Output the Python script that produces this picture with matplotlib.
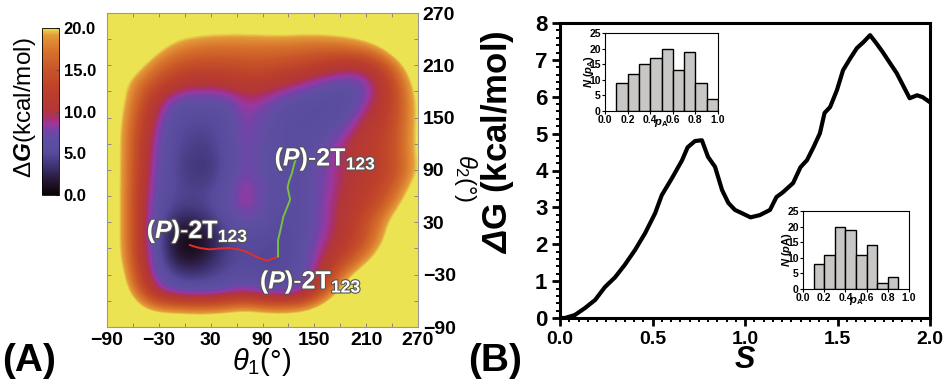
import numpy as np
import matplotlib
matplotlib.use('Agg')
import matplotlib.pyplot as plt
from matplotlib.colors import LinearSegmentedColormap
from matplotlib.ticker import MultipleLocator, FormatStrFormatter
import matplotlib.patheffects as pe

plt.rcParams['font.family'] = ['Liberation Sans', 'DejaVu Sans']
plt.rcParams['mathtext.fontset'] = 'custom'
plt.rcParams['mathtext.rm'] = 'Liberation Sans'
plt.rcParams['mathtext.it'] = 'Liberation Sans:italic'
plt.rcParams['mathtext.bf'] = 'Liberation Sans:bold'
plt.rcParams['mathtext.bfit'] = 'Liberation Sans:italic:bold'

# ---------------- data: free-energy map (kcal/mol), rows theta2 from 270 down to -90
theta1_grid = [-90, -70, -50, -30, -10, 10, 30, 50, 70, 90, 110, 130, 150, 170, 190, 210, 230, 250, 270]
theta2_grid = [270, 250, 230, 210, 190, 170, 150, 130, 110, 90, 70, 50, 30, 10, -10, -30, -50, -70, -90]
dG_map = [
    [25, 25, 25, 25, 25, 25, 25, 25, 25, 25, 25, 25, 25, 25, 25, 25, 25, 25, 25],
    [25, 25, 25, 24, 21.5, 21, 20.6, 20.4, 20.4, 20.6, 20.8, 20.6, 20.6, 21, 21.5, 22.5, 24, 25, 25],
    [25, 25, 24, 20.5, 18.5, 17.5, 17, 17, 17, 17, 17, 16.8, 16.5, 16.5, 17, 18, 20.3, 24, 25],
    [25, 23.5, 20.3, 17, 15, 14, 14, 14, 14.5, 14.5, 14, 13.5, 12.5, 11.5, 10.5, 11, 14, 19, 24],
    [24, 20.5, 17, 14, 11.5, 10.5, 10.5, 11, 11.5, 11.5, 10.5, 9.5, 8, 7, 6.5, 7.5, 11, 16, 22],
    [23, 20.3, 15, 10, 7, 6.5, 6.5, 7, 9, 8.5, 7, 6, 5.5, 5.5, 5.5, 8, 11, 15.5, 21],
    [23, 19.5, 13.5, 8.5, 5.5, 5, 5, 5.8, 8.5, 7, 6, 5.5, 5.5, 5.5, 6.8, 10, 12, 15.5, 21],
    [23, 19, 12.5, 7.5, 5, 4.5, 4.5, 5.8, 8, 6.8, 6, 5.5, 5.8, 6.8, 9, 11.5, 12.5, 16, 21],
    [23, 19, 12, 7, 4.8, 4, 4, 5.6, 7.8, 6.5, 6, 5.5, 6.5, 8, 10.5, 12, 13, 16, 21],
    [23, 19, 11.5, 6.8, 4.6, 3.6, 3.6, 5.6, 7.8, 6.5, 5.8, 5.5, 6.8, 8.5, 10, 11.5, 12.5, 15.5, 20.5],
    [23, 19, 11, 6.5, 4.8, 4.3, 4.5, 6.3, 9, 7, 5.8, 5.5, 7, 8.5, 10.5, 12, 13.5, 17.5, 22],
    [23, 19, 10.5, 6, 4.5, 4.3, 5, 6.8, 9, 7, 5.8, 5.5, 7, 9, 11, 12.5, 15.5, 20, 24],
    [23, 19, 10.5, 5.5, 2.5, 2, 3.5, 5.5, 6.8, 6.3, 5, 5.5, 7, 9, 11.5, 14.5, 18.5, 23, 25],
    [23, 19, 10.5, 5, 1, 0.3, 2, 4.5, 5.2, 5, 4.8, 5.5, 7.5, 9.5, 12, 15, 19.5, 24, 25],
    [23, 19.3, 11, 5.5, 1.5, 1, 2.5, 4.5, 5, 4.8, 4.8, 5.5, 8, 11, 14, 18, 22.5, 25, 25],
    [24, 20.5, 12, 6.5, 4.2, 3.5, 4.2, 5, 5.5, 5, 5, 5.5, 9, 13.5, 19, 23, 25, 25, 25],
    [25, 22, 15, 9, 7, 6.5, 6.5, 7.5, 8.5, 7, 6.5, 7, 11, 18, 23, 25, 25, 25, 25],
    [25, 25, 21, 19, 18.5, 18, 18, 19, 20, 19, 18.5, 19, 21, 24, 25, 25, 25, 25, 25],
    [25, 25, 25, 25, 25, 25, 25, 25, 25, 25, 25, 25, 25, 25, 25, 25, 25, 25, 25],
]

# transition paths on the map
red_path_theta1 = [6, 12, 17.6, 29, 40, 52, 62, 72, 84, 95, 104, 108]
red_path_theta2 = [4, 2, 0.5, -1, 0, 0.5, -1, -4, -10, -14, -11, -9]
green_path_theta1 = [108, 108, 111, 114, 118, 122, 119, 121, 124, 126, 128]
green_path_theta2 = [-9, 9.7, 22, 36, 46, 56, 70, 78, 86, 94, 101]

# ---------------- data: 1D free-energy profile
S_vals = [0.0, 0.027, 0.08, 0.135, 0.19, 0.243, 0.297, 0.35, 0.405, 0.46, 0.514, 0.55, 0.605,
          0.66, 0.69, 0.73, 0.767, 0.80, 0.838, 0.876, 0.91, 0.946, 0.98, 1.03, 1.08, 1.135,
          1.17, 1.205, 1.26, 1.30, 1.335, 1.37, 1.405, 1.43, 1.46, 1.497, 1.53, 1.57, 1.605,
          1.64, 1.676, 1.71, 1.746, 1.78, 1.82, 1.854, 1.89, 1.93, 1.96, 2.0]
G_vals = [0.0, 0.0, 0.08, 0.27, 0.49, 0.84, 1.1, 1.44, 1.84, 2.3, 2.84, 3.33, 3.79,
          4.28, 4.63, 4.8, 4.82, 4.37, 4.1, 3.47, 3.12, 2.93, 2.85, 2.73, 2.79, 2.93,
          3.28, 3.41, 3.66, 4.09, 4.28, 4.63, 5.01, 5.56, 5.72, 6.18, 6.72, 7.05, 7.32,
          7.48, 7.67, 7.45, 7.2, 6.94, 6.64, 6.31, 5.96, 6.04, 5.99, 5.85]

# ---------------- data: committor histograms
hist1_left = [0.1, 0.2, 0.3, 0.4, 0.5, 0.6, 0.7, 0.8, 0.9]
hist1_counts = [9, 12, 15, 17, 20, 13, 19, 9, 4]
hist2_left = [0.1, 0.2, 0.3, 0.4, 0.5, 0.6, 0.7, 0.8]
hist2_counts = [8, 11, 20, 19, 11, 14, 2, 4]

map_ticks = [-90, -30, 30, 90, 150, 210, 270]
cbar_ticks = [0, 5, 10, 15, 20]

# ---------------- figure
fig = plt.figure(figsize=(9.48, 3.79), dpi=100)

cmap = LinearSegmentedColormap.from_list('fes', [
    (0.00, '#0a0404'),
    (0.08, '#251530'),
    (0.17, '#3e3272'),
    (0.25, '#574a9c'),
    (0.33, '#5f4fa3'),
    (0.38, '#7045a8'),
    (0.425, '#9a38a0'),
    (0.46, '#a83070'),
    (0.50, '#b3363a'),
    (0.62, '#bc3e2c'),
    (0.75, '#c85428'),
    (0.87, '#d8742c'),
    (0.96, '#e49a3a'),
    (1.00, '#ece352'),
])
cmap.set_over('#ece352')

ax1 = fig.add_axes([107/948, 1-327/379, 311/948, 314/379])
d1 = theta1_grid[1] - theta1_grid[0]
d2 = theta2_grid[0] - theta2_grid[1]
im = ax1.imshow(np.array(dG_map), cmap=cmap, vmin=0, vmax=20, interpolation='bicubic',
                origin='upper', aspect='auto',
                extent=[theta1_grid[0]-d1/2, theta1_grid[-1]+d1/2,
                        theta2_grid[-1]-d2/2, theta2_grid[0]+d2/2])
ax1.set_xlim(-90, 270)
ax1.set_ylim(-90, 270)
ax1.plot(red_path_theta1, red_path_theta2, color='#e03028', lw=1.4)
ax1.plot(green_path_theta1, green_path_theta2, color='#78c040', lw=1.4)

ax1.set_xticks(map_ticks)
ax1.set_yticks(map_ticks)
ax1.xaxis.set_minor_locator(MultipleLocator(30))
ax1.yaxis.set_minor_locator(MultipleLocator(30))
ax1.tick_params(which='both', direction='in', color='#888888', length=3, width=0.7,
                top=True, bottom=True, left=True, right=True,
                labelleft=False, labelright=True, labelbottom=True, labelsize=14)
for lab in ax1.get_xticklabels() + ax1.get_yticklabels():
    lab.set_fontweight('bold')
for sp in ax1.spines.values():
    sp.set_color('#999999')
    sp.set_linewidth(0.8)

fx = [pe.withStroke(linewidth=1.6, foreground='#555555')]
lab_txt = r'$\mathbf{(}\mathbfit{P}\mathbf{)\text{-}2T}_{\mathbf{123}}$'
ax1.text(-44, 12, lab_txt, color='white', fontsize=18, path_effects=fx)
ax1.text(104, 95, lab_txt, color='white', fontsize=18, path_effects=fx)
ax1.text(87, -46, lab_txt, color='white', fontsize=18, path_effects=fx)

fig.text(262/948, 0.045, r'$\theta_1$(°)', fontsize=21, ha='center', va='center')
fig.text(466/948, 0.53, r'$\theta_2$(°)', fontsize=17, ha='center', va='center', rotation=270)

# colorbar
cax = fig.add_axes([42/948, 1-195/379, 17/948, 167/379])
cb = fig.colorbar(im, cax=cax, ticks=cbar_ticks, extend='neither')
cb.ax.yaxis.set_major_formatter(FormatStrFormatter('%.1f'))
cb.ax.tick_params(labelsize=12, length=2, direction='in', color='#555555')
for lab in cb.ax.get_yticklabels():
    lab.set_fontweight('bold')
cb.outline.set_linewidth(0.6)
fig.text(25/948, 1-108/379, r'$\Delta\mathbfit{G}$(kcal/mol)', fontsize=17.5, rotation=90,
         ha='center', va='center')

fig.text(0.002, 0.0, '(A)', fontsize=28, fontweight='bold', ha='left', va='bottom')
fig.text(468/948, 0.0, '(B)', fontsize=28, fontweight='bold', ha='left', va='bottom')

# ---------------- right panel
ax2 = fig.add_axes([560/948, 1-318/379, 370/948, 295/379])
ax2.plot(S_vals, G_vals, color='black', lw=3)
ax2.set_xlim(0, 2)
ax2.set_ylim(0, 8)
ax2.xaxis.set_major_locator(MultipleLocator(0.5))
ax2.xaxis.set_minor_locator(MultipleLocator(0.05))
ax2.yaxis.set_major_locator(MultipleLocator(1))
ax2.yaxis.set_minor_locator(MultipleLocator(0.2))
ax2.xaxis.set_major_formatter(FormatStrFormatter('%.1f'))
for sp in ax2.spines.values():
    sp.set_linewidth(2.2)
ax2.tick_params(which='major', direction='out', length=6, width=2, pad=3)
ax2.tick_params(which='minor', direction='out', length=3, width=1.4)
ax2.tick_params(axis='x', labelsize=14)
ax2.tick_params(axis='y', labelsize=16)
for lab in ax2.get_xticklabels() + ax2.get_yticklabels():
    lab.set_fontweight('bold')
fig.text(498/948, 1-142/379, r'$\mathbfit{Δ}$G (kcal/mol)', fontsize=25, fontweight='bold',
         rotation=90, ha='center', va='center')
ax2.set_xlabel(r'$\mathbfit{S}$', fontsize=22, labelpad=-2)

def inset(rect, left, counts, ylab):
    a = fig.add_axes(rect)
    a.bar(left, counts, width=0.1, align='edge', color='#c9c7c5', edgecolor='black', lw=1)
    a.set_xlim(0, 1)
    a.set_ylim(0, 25)
    a.set_xticks([0, 0.2, 0.4, 0.6, 0.8, 1.0])
    a.set_yticks([0, 5, 10, 15, 20, 25])
    a.xaxis.set_major_formatter(FormatStrFormatter('%.1f'))
    a.tick_params(labelsize=7.5, length=2, width=0.8, pad=1)
    for lab in a.get_xticklabels() + a.get_yticklabels():
        lab.set_fontweight('bold')
    for sp in a.spines.values():
        sp.set_linewidth(0.8)
    a.set_xlabel(r'$\mathbfit{p}_{\mathbf{A}}$', fontsize=8, labelpad=-6)
    a.set_ylabel(ylab, fontsize=8, labelpad=-5)
    return a

inset([605/948, 1-111/379, 113/948, 78/379], hist1_left, hist1_counts,
      r'$\mathbfit{N}\ \mathbf{(}\mathbfit{p}_{\mathbf{A}}\mathbf{)}$')
inset([803/948, 1-289/379, 106/948, 78/379], hist2_left, hist2_counts,
      r'$\mathbfit{N}\ \mathbf{(}\mathbfit{p}\mathbf{A)}$')

fig.savefig('out.png', dpi=100)
